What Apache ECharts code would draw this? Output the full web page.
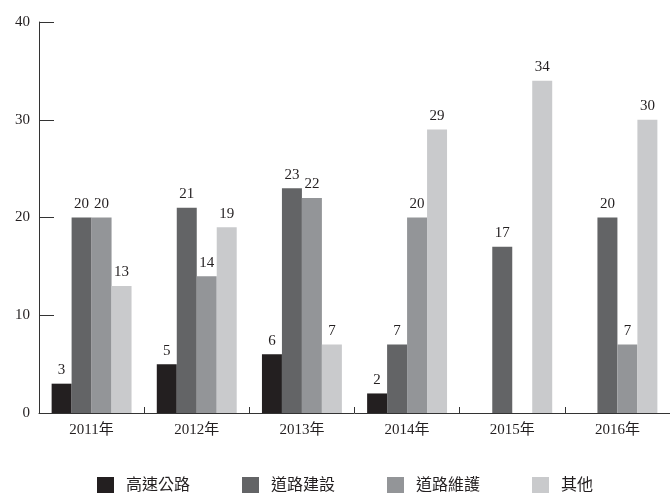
<!DOCTYPE html>
<html>
<head>
<meta charset="utf-8">
<script src="https://cdn.jsdelivr.net/npm/echarts@6/dist/echarts.min.js"></script>
<style>
  html, body { margin: 0; padding: 0; background: #fff; }
  #main { width: 670px; height: 493px; }
</style>
</head>
<body>
<div id="main"></div>
<script>
// 資料
var categories = ['2011年', '2012年', '2013年', '2014年', '2015年', '2016年'];
var seriesNames = ['高速公路', '道路建設', '道路維護', '其他'];
var highway = [3, 5, 6, 2, 0, 0];
var construction = [20, 21, 23, 7, 17, 20];
var maintenance = [20, 14, 22, 20, 0, 7];
var others = [13, 19, 7, 29, 34, 30];
var colors = ['#231f20', '#636466', '#939598', '#c9cacc'];

var fontFamily = '"Liberation Serif", "Noto Sans CJK TC", serif';

var myChart = echarts.init(document.getElementById('main'));

function makeSeries(name, data, color) {
    return {
        name: name,
        type: 'bar',
        data: data,
        barGap: '0%',
        barCategoryGap: '24%',
        itemStyle: { color: color },
        label: {
            show: true,
            position: 'top',
            distance: 6,
            color: '#231f20',
            fontSize: 15,
            fontFamily: fontFamily,
            formatter: function (p) { return p.value === 0 ? '' : p.value; }
        }
    };
}

var option = {
    animation: false,
    textStyle: { fontFamily: fontFamily },
    legend: {
        top: 472,
        left: 92,
        itemWidth: 17,
        itemHeight: 17,
        itemGap: 52,
        icon: 'rect',
        textStyle: { fontSize: 16, color: '#231f20', fontFamily: fontFamily, padding: [0, 0, 0, 7] },
        data: seriesNames
    },
    grid: {
        left: 39,
        right: 0,
        top: 22,
        bottom: 80
    },
    xAxis: {
        type: 'category',
        data: categories,
        axisLine: { lineStyle: { color: '#333', width: 1 } },
        axisTick: { show: true, inside: true, length: 6, lineStyle: { color: '#333' } },
        axisLabel: { fontSize: 15, color: '#231f20', margin: 10, fontFamily: fontFamily }
    },
    yAxis: {
        type: 'value',
        min: 0,
        max: 40,
        interval: 10,
        splitLine: { show: false },
        axisLine: { show: true, lineStyle: { color: '#333', width: 1 } },
        axisTick: { show: true, inside: true, length: 15, lineStyle: { color: '#333' } },
        axisLabel: { fontSize: 15, color: '#231f20', margin: 9, fontFamily: fontFamily }
    },
    series: [
        makeSeries(seriesNames[0], highway, colors[0]),
        makeSeries(seriesNames[1], construction, colors[1]),
        makeSeries(seriesNames[2], maintenance, colors[2]),
        makeSeries(seriesNames[3], others, colors[3])
    ]
};

myChart.setOption(option);
</script>
</body>
</html>
